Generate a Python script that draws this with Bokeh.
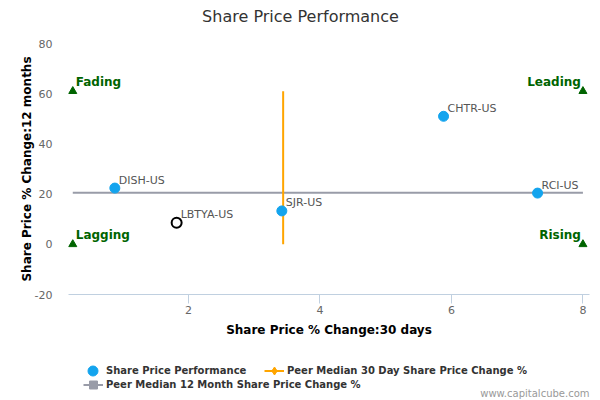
from bokeh.plotting import figure
from bokeh.models import ColumnDataSource, Range1d, FixedTicker, Legend, LegendItem, Label
from bokeh.core.properties import value
from bokeh.embed import file_html
from bokeh.resources import INLINE

# data
tickers = ["DISH-US", "LBTYA-US", "SJR-US", "CHTR-US", "RCI-US"]
change_30d = [0.88, 1.82, 3.42, 5.88, 7.31]
change_12m = [22.4, 8.6, 13.3, 51.0, 20.4]
highlight = "LBTYA-US"

peer_median_30d = 3.44
peer_median_12m = 20.5

quad_names = ["Fading", "Leading", "Lagging", "Rising"]
quad_x = [0.24, 8.0, 0.24, 8.0]
quad_y = [61, 61, 0, 0]

x_ticks = [2, 4, 6, 8]
y_ticks = [-20, 0, 20, 40, 60, 80]

FONT = "DejaVu Sans"
BLUE = "#13a4ee"
ORANGE = "#ffa500"
GREY = "#999ca8"
GREEN = "#006400"

W, H = 600, 400
# visible axis extents and where the plotting area sits on the canvas
X_LO, X_HI, Y_LO, Y_HI = 0.175, 8.10, -20, 80
LEFT, RIGHT, TOP, BOTTOM = 68, 11, 43, 106

# the frame fills the whole canvas, so legends and notes below the axes are not clipped;
# the axes are pinned to the edges of the data area instead
xpp = (X_HI - X_LO) / (W - LEFT - RIGHT)
ypp = (Y_HI - Y_LO) / (H - TOP - BOTTOM)
p = figure(width=W, height=H, output_backend="svg", toolbar_location=None, title=None,
           x_range=Range1d(X_LO - LEFT * xpp, X_HI + RIGHT * xpp),
           y_range=Range1d(Y_LO - BOTTOM * ypp, Y_HI + TOP * ypp),
           min_border_left=0, min_border_right=0, min_border_top=0, min_border_bottom=0,
           x_axis_label="Share Price % Change:30 days",
           y_axis_label="Share Price % Change:12 months")

p.outline_line_color = None
p.xgrid.grid_line_color = None
p.ygrid.grid_line_color = None

p.xaxis.ticker = FixedTicker(ticks=x_ticks)
p.yaxis.ticker = FixedTicker(ticks=y_ticks)
p.yaxis.major_label_overrides = {t: str(t) for t in y_ticks}  # plain hyphen for -20
p.xaxis.fixed_location = Y_LO
p.yaxis.fixed_location = X_LO
p.xaxis.bounds = (X_LO, X_HI)
p.yaxis.bounds = (Y_LO, Y_HI)
for ax in (p.xaxis, p.yaxis):
    ax.major_label_text_font = FONT
    ax.major_label_text_font_size = "11px"
    ax.major_label_text_color = "#666666"
    ax.axis_label_text_font = FONT
    ax.axis_label_text_font_size = "12px"
    ax.axis_label_text_font_style = "bold"
    ax.axis_label_text_color = "#000000"
    ax.minor_tick_line_color = None

p.xaxis.axis_line_color = "#c0d0e0"
p.xaxis.major_tick_line_color = "#c0d0e0"
p.xaxis.major_tick_in = 0
p.xaxis.major_tick_out = 9
p.xaxis.major_label_standoff = 2
p.xaxis.axis_label_standoff = 6

p.yaxis.axis_line_color = None
p.yaxis.major_tick_line_color = None
p.yaxis.major_tick_in = 0
p.yaxis.major_tick_out = 0
p.yaxis.major_label_standoff = 16
p.yaxis.axis_label_standoff = -2

# peer median lines
hline = p.line([min(quad_x), max(quad_x)], [peer_median_12m, peer_median_12m],
               line_color=GREY, line_width=2)
vline = p.line([peer_median_30d, peer_median_30d], [min(quad_y), max(quad_y)],
               line_color=ORANGE, line_width=2)
# marker-only renderers used just for the legend symbols
nan = float("nan")
hsq = p.scatter([nan], [nan], marker="square", color=GREY)
vdia = p.scatter([nan], [nan], marker="diamond", color=ORANGE)

# stocks
main = ColumnDataSource(data=dict(
    x=[x for x, t in zip(change_30d, tickers) if t != highlight],
    y=[y for y, t in zip(change_12m, tickers) if t != highlight],
    name=[t for t in tickers if t != highlight]))
hl = ColumnDataSource(data=dict(
    x=[x for x, t in zip(change_30d, tickers) if t == highlight],
    y=[y for y, t in zip(change_12m, tickers) if t == highlight],
    name=[highlight]))

pts = p.scatter("x", "y", source=main, size=10, fill_color=BLUE, line_color=BLUE)
p.scatter("x", "y", source=hl, size=10, fill_color="white", line_color="black", line_width=2)
for src in (main, hl):
    p.text("x", "y", text="name", source=src, x_offset=4, y_offset=-8,
           text_font=value(FONT), text_font_size="11px", text_color="#555555",
           text_align="left", text_baseline="middle")

# quadrant markers
quad = ColumnDataSource(data=dict(x=quad_x, y=quad_y, name=quad_names,
                                  align=["left", "right", "left", "right"],
                                  dx=[3, -2, 3, -2]))
p.scatter("x", "y", source=quad, marker="triangle", size=8, color=GREEN)
p.text("x", "y", text="name", source=quad, x_offset="dx", y_offset=-9,
       text_font=value(FONT), text_font_size="12px", text_font_style="bold",
       text_color=GREEN, text_align="align", text_baseline="middle")

# title and site credit
p.add_layout(Label(x=W / 2, y=H - 16, x_units="screen", y_units="screen",
                   text="Share Price Performance", text_font=FONT, text_font_size="16px",
                   text_color="#333333", text_align="center", text_baseline="middle"))
p.add_layout(Label(x=W - RIGHT, y=7, x_units="screen", y_units="screen",
                   text="www.capitalcube.com", text_font=FONT, text_font_size="10px",
                   text_color="#999999", text_align="right", text_baseline="middle"))

# legend entries, each placed on its own
def legend_block(item, x, y, gw, standoff):
    lg = Legend(items=[item], location=(x, y), orientation="horizontal",
                glyph_width=gw, glyph_height=25, label_height=25,
                label_standoff=standoff, padding=0, margin=0,
                background_fill_alpha=0, border_line_alpha=0,
                label_text_font=FONT, label_text_font_size="10px",
                label_text_font_style="bold", label_text_color="#333333")
    p.add_layout(lg)

legend_block(LegendItem(label="Share Price Performance", renderers=[pts]), 80, 17, 25, 1)
legend_block(LegendItem(label="Peer Median 30 Day Share Price Change %", renderers=[vline, vdia]),
             264, 17, 20, 3)
legend_block(LegendItem(label="Peer Median 12 Month Share Price Change %", renderers=[hline, hsq]),
             83, 3, 20, 3)

open("out.html", "w").write(file_html(p, INLINE))
